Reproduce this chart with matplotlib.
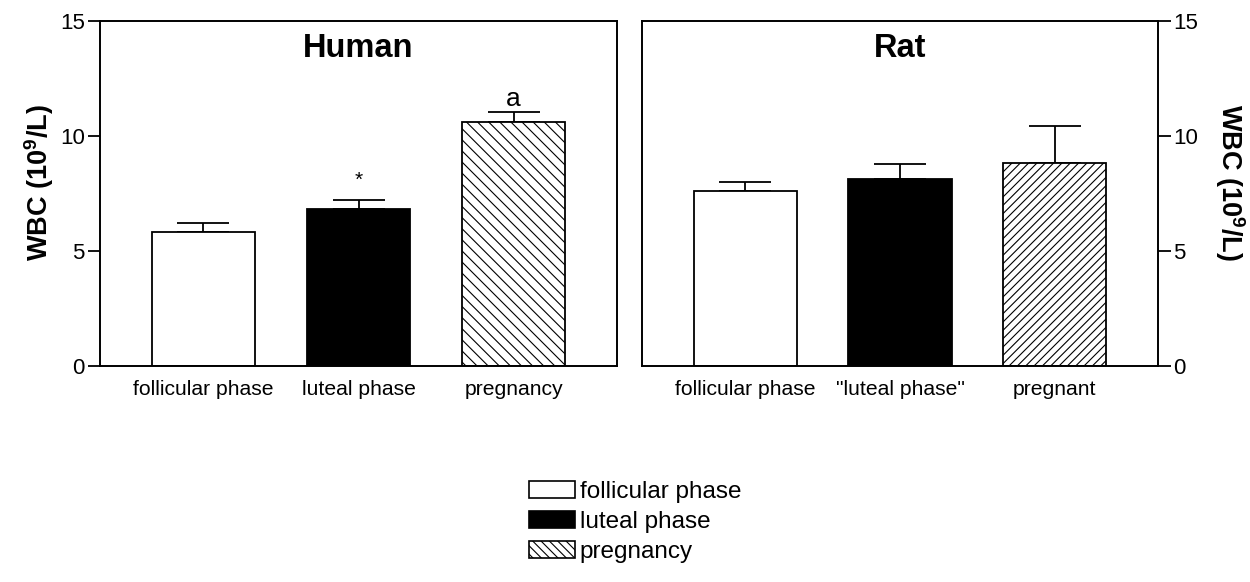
import matplotlib
matplotlib.use("Agg")
import matplotlib.pyplot as plt
from matplotlib.patches import Patch

plt.rcParams['font.family'] = ['Liberation Sans', 'DejaVu Sans']
plt.rcParams['mathtext.fontset'] = 'custom'
plt.rcParams['mathtext.rm'] = 'Liberation Sans'
plt.rcParams['mathtext.bf'] = 'Liberation Sans:bold'
plt.rcParams['hatch.linewidth'] = 0.8

# ---- data ----
human_labels = ["follicular phase", "luteal phase", "pregnancy"]
human_means = [5.84, 6.81, 10.62]
human_sem = [0.36, 0.41, 0.44]

rat_labels = ["follicular phase", "\"luteal phase\"", "pregnant"]
rat_means = [7.61, 8.13, 8.81]
rat_sem = [0.40, 0.64, 1.62]

legend_labels = ["follicular phase", "luteal phase", "pregnancy"]
yticks = [0, 5, 10, 15]
ylabel = r"WBC (10$^{\mathbf{9}}$/L)"

fig = plt.figure(figsize=(12.5, 5.82), dpi=100)
W, H = 1250, 582
def ax_rect(x0, x1, y0, y1):
    return [x0 / W, 1 - y1 / H, (x1 - x0) / W, (y1 - y0) / H]

axL = fig.add_axes(ax_rect(100, 617, 21, 366))
axR = fig.add_axes(ax_rect(642, 1158, 21, 366))

bw = 0.667
def draw(ax, means, sem, labels, hatch):
    x = list(range(len(means)))
    styles = [dict(facecolor='white'), dict(facecolor='black'),
              dict(facecolor='white', hatch=hatch)]
    for xi, m, s, st in zip(x, means, sem, styles):
        ax.bar(xi, m, width=bw, edgecolor='black', linewidth=1.3, zorder=2, **st)
        ax.errorbar(xi, m, yerr=[[0], [s]], fmt='none', ecolor='black',
                    elinewidth=1.3, capsize=19, capthick=1.3, zorder=1)
    ax.set_xlim(-bw, 2 + bw)
    ax.set_ylim(0, 15)
    ax.set_yticks(yticks)
    ax.set_xticks(x)
    ax.set_xticklabels(labels, fontsize=15.2)
    ax.tick_params(axis='x', length=0, pad=10)
    ax.tick_params(axis='y', length=9, width=1.3, labelsize=16, pad=2)
    for sp in ax.spines.values():
        sp.set_linewidth(1.4)

draw(axL, human_means, human_sem, human_labels, '\\\\\\')
draw(axR, rat_means, rat_sem, rat_labels, '////')

axR.yaxis.tick_right()
axR.yaxis.set_label_position('right')

axL.set_ylabel(ylabel, fontsize=19.5, fontweight='bold')
axL.yaxis.set_label_coords(-0.086, 0.533)
axR.set_ylabel(ylabel, fontsize=19.5, fontweight='bold', rotation=-90, va='bottom')
axR.yaxis.set_label_coords(1.107, 0.533)

axL.text(0.5, 0.92, "Human", transform=axL.transAxes, ha='center', va='center',
         fontsize=23.5, fontweight='bold')
axR.text(0.5, 0.92, "Rat", transform=axR.transAxes, ha='center', va='center',
         fontsize=23.5, fontweight='bold')

# significance marks
axL.text(1, 7.85, "*", ha='center', va='baseline', fontsize=15)
axL.text(2, 11.3, "a", ha='center', va='baseline', fontsize=19)

handles = [Patch(facecolor='white', edgecolor='black', linewidth=1.2),
           Patch(facecolor='black', edgecolor='black', linewidth=1.2),
           Patch(facecolor='white', edgecolor='black', linewidth=1.2, hatch='\\\\\\\\')]
fig.legend(handles, legend_labels, loc='center', bbox_to_anchor=(0.508, 1 - 522 / H),
           frameon=False, fontsize=17.5, handlelength=1.9, handleheight=0.7,
           handletextpad=0.2, labelspacing=0.33, borderpad=0)

fig.savefig("out.png", dpi=100)
